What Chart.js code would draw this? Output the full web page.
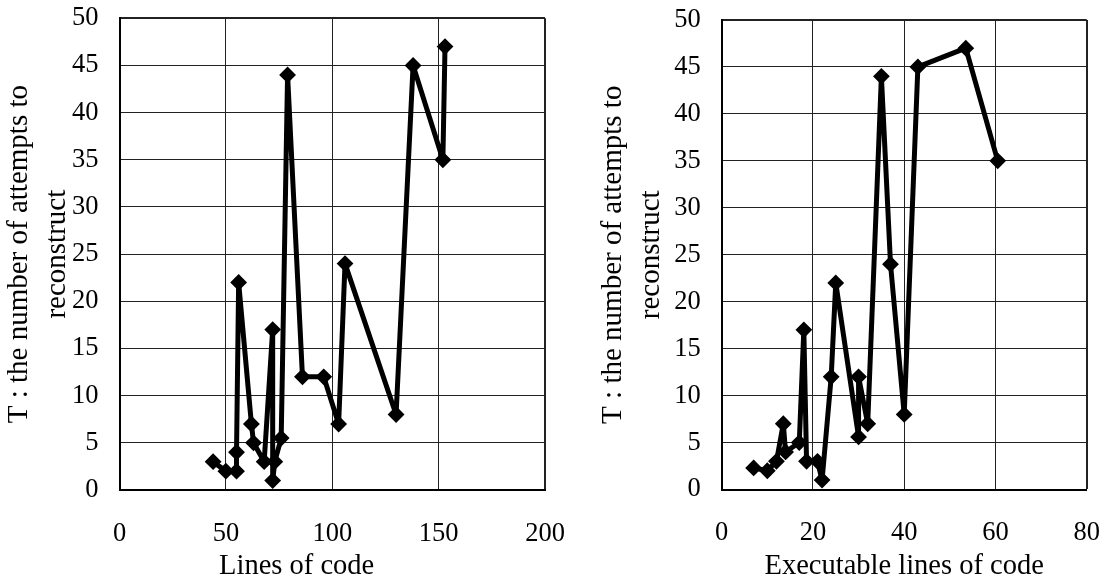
<!DOCTYPE html>
<html lang="en">
<head>
<meta charset="UTF-8" />
<title>Attempts to reconstruct vs. lines of code</title>
<script src="https://cdn.jsdelivr.net/npm/chart.js"></script>
<style>
  html, body { margin: 0; padding: 0; background: #fff; }
  body { width: 1106px; height: 586px; position: relative; overflow: hidden; }
  .box { position: absolute; top: 0; height: 586px; }
  #left { left: 0; width: 594px; }
  #right { left: 594px; width: 512px; }
</style>
</head>
<body>
<div class="box" id="left"><canvas id="locChart"></canvas></div>
<div class="box" id="right"><canvas id="execChart"></canvas></div>

<script>
// left panel: total lines of code
const locX = [44, 50, 55, 55, 56, 62, 63, 68, 72, 72, 73, 76, 79, 86, 96, 103, 106, 130, 138, 152, 153];
const locT = [3, 2, 2, 4, 22, 7, 5, 3, 17, 1, 3, 5.5, 44, 12, 12, 7, 24, 8, 45, 35, 47];

// right panel: executable lines of code
const execX = [7, 10, 12, 13.5, 14, 17, 18, 18.6, 21, 22, 24, 25, 30, 30, 32, 35, 37, 40, 43, 53.5, 60.5];
const execT = [2.3, 2, 3, 7, 4, 5, 17, 3, 3, 1, 12, 22, 5.6, 12, 7, 44, 24, 8, 45, 47, 35];

const yTicks = { min: 0, max: 50, step: 5 };
const yTitle = ['T : the number of attempts to', 'reconstruct'];

const serif = '"Liberation Serif", "Times New Roman", serif';

function makeChart(id, xs, ys, xMax, xStep, xTitle, box) {
  const points = xs.map((x, i) => ({ x: x, y: ys[i] }));
  const ctx = document.getElementById(id).getContext('2d');

  const edgeWidth = max => c => (c.tick && c.tick.value === max ? 2 : 1);

  return new Chart(ctx, {
    type: 'line',
    data: {
      datasets: [{
        data: points,
        borderColor: '#000',
        backgroundColor: '#000',
        borderWidth: 5,
        borderJoinStyle: 'round',
        tension: 0,
        pointStyle: 'rectRot',
        pointRadius: 7,
        pointBorderWidth: 2,
        pointBackgroundColor: '#000',
        pointBorderColor: '#000'
      }]
    },
    options: {
      responsive: true,
      maintainAspectRatio: false,
      animation: false,
      layout: { padding: { top: box.top, right: box.right, left: 0, bottom: 0 } },
      plugins: { legend: { display: false }, tooltip: { enabled: false } },
      scales: {
        x: {
          type: 'linear',
          min: 0,
          max: xMax,
          ticks: { stepSize: xStep, autoSkip: false, maxRotation: 0, color: '#000',
                   font: { family: serif, size: 26.5 }, padding: 28 },
          grid: { color: '#222', lineWidth: edgeWidth(xMax), drawTicks: false },
          border: { color: '#000', width: 2 },
          title: { display: true, text: xTitle, color: '#000',
                   font: { family: serif, size: 28.5 }, padding: { top: 0, bottom: 2 } },
          afterFit(s) { s.height = box.xH; s.paddingLeft = 0; s.paddingRight = 0; }
        },
        y: {
          min: yTicks.min,
          max: yTicks.max,
          ticks: { stepSize: yTicks.step, autoSkip: false, color: '#000',
                   font: { family: serif, size: 26.5 }, padding: 21 },
          grid: { color: '#222', lineWidth: edgeWidth(yTicks.max), drawTicks: false },
          border: { color: '#000', width: 2 },
          title: { display: true, text: yTitle, color: '#000',
                   font: { family: serif, size: 29, lineHeight: 1.33 }, padding: { top: 0, bottom: 0 } },
          afterFit(s) { s.width = box.yW; s.paddingTop = 0; s.paddingBottom = 0; }
        }
      }
    }
  });
}

makeChart('locChart', locX, locT, 200, 50, 'Lines of code          ',
          { top: 18.3, right: 49, xH: 96, yW: 119.5 });
makeChart('execChart', execX, execT, 80, 20, 'Executable lines of code',
          { top: 20, right: 19.3, xH: 96.5, yW: 127.7 });
</script>
</body>
</html>
